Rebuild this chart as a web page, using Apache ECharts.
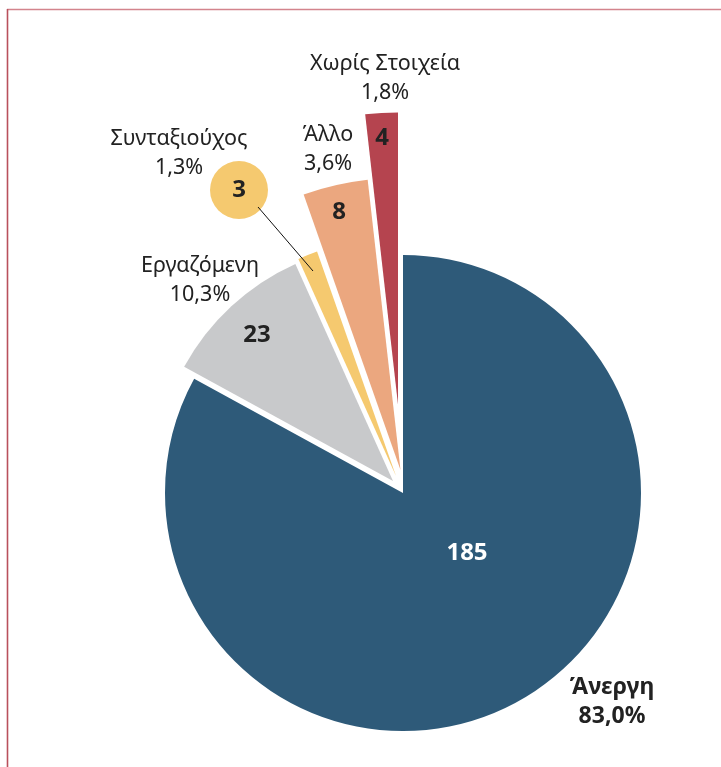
<!DOCTYPE html>
<html>
<head>
<meta charset="utf-8">
<script src="https://cdn.jsdelivr.net/npm/echarts@6/dist/echarts.min.js"></script>
<style>
html,body{margin:0;padding:0;background:#fff;}
#chart{width:721px;height:767px;}
</style>
</head>
<body>
<div id="chart"></div>
<script>
// ---- data ----
const categories = ['Άνεργη', 'Εργαζόμενη', 'Συνταξιούχος', 'Άλλο', 'Χωρίς Στοιχεία'];
const values = [185, 23, 3, 8, 4];

// ---- styling / layout (not data) ----
const colors = ['#2e5a79', '#c8c9cb', '#f5c96f', '#eba77f', '#b5444f'];
const sliceCenters = [[403, 493], [393, 481], [396, 476], [400.5, 470], [398, 404.5]];
const sliceRadii = [238, 238, 238, 292, 292];
const numberPos = [[467, 553], [257, 335], [239, 190], [339, 212], [382, 138]];
const numberColor = ['#ffffff', '#222', '#222', '#222', '#222'];
const namePos = [[612, 702], [200, 280], [179, 153], [328, 149], [385, 78]];
const nameBold = [true, false, false, false, false];

const total = values.reduce((a, b) => a + b, 0);
const pct = v => (v / total * 100).toFixed(1).replace('.', ',') + '%';

const FONT = '"Noto Sans", sans-serif';
const chart = echarts.init(document.getElementById('chart'), null, {renderer: 'canvas'});

const series = categories.map((cat, k) => ({
  type: 'pie',
  center: sliceCenters[k],
  radius: [0, sliceRadii[k]],
  startAngle: 90,
  clockwise: true,
  silent: true,
  animation: false,
  avoidLabelOverlap: false,
  labelLine: {show: false},
  data: categories.map((c, i) => ({
    name: c,
    value: values[i],
    itemStyle: {color: i === k ? colors[i] : 'rgba(0,0,0,0)'},
    label: i === k ? {
      show: true,
      position: 'inside',
      formatter: '{c}',
      color: numberColor[i],
      fontFamily: FONT,
      fontWeight: 'bold',
      fontSize: 24,
      backgroundColor: i === 2 ? colors[2] : 'transparent',
      width: i === 2 ? 58 : undefined,
      height: i === 2 ? 58 : undefined,
      lineHeight: i === 2 ? 58 : undefined,
      align: 'center',
      verticalAlign: 'middle',
      borderRadius: i === 2 ? 29 : 0
    } : {show: false}
  })),
  labelLayout: function (params) {
    return {x: numberPos[k][0], y: numberPos[k][1], align: 'center', verticalAlign: 'middle'};
  }
}));

const graphics = [
  {type: 'line', shape: {x1: 7, y1: 9.5, x2: 721, y2: 9.5}, style: {stroke: '#d3848d', lineWidth: 1.6}, z: 10},
  {type: 'line', shape: {x1: 7.5, y1: 9, x2: 7.5, y2: 767}, style: {stroke: '#b9505c', lineWidth: 1.6}, z: 10},
  {type: 'line', shape: {x1: 258, y1: 207, x2: 313, y2: 271}, style: {stroke: '#111', lineWidth: 1}, z: 10}
];
categories.forEach((c, i) => {
  graphics.push({
    type: 'text',
    x: namePos[i][0],
    y: namePos[i][1],
    z: 10,
    style: {
      text: c + '\n' + pct(values[i]),
      fill: '#222',
      font: (nameBold[i] ? 'bold 23px ' : '21.5px ') + FONT,
      lineHeight: 29,
      align: 'center',
      verticalAlign: 'middle'
    }
  });
});

chart.setOption({
  backgroundColor: '#ffffff',
  animation: false,
  series: series,
  graphic: graphics
});
</script>
</body>
</html>
